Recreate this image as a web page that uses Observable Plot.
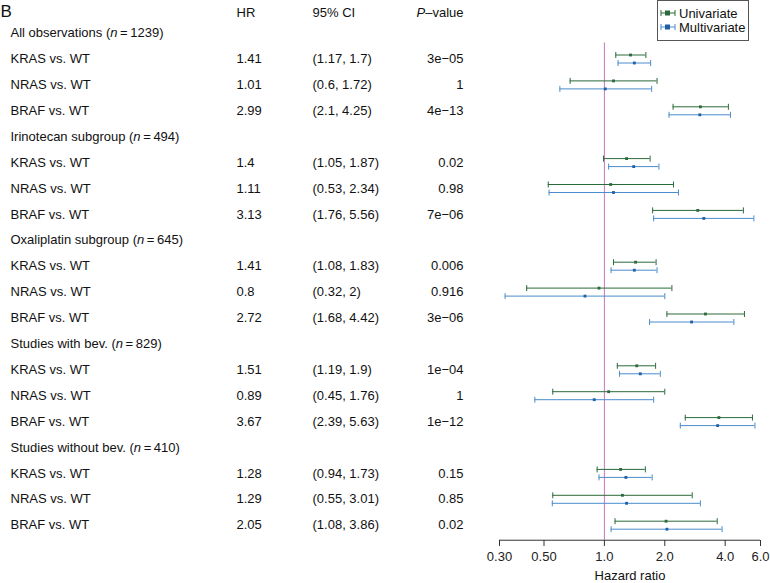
<!DOCTYPE html>
<html>
<head>
<meta charset="utf-8">
<script src="https://cdn.jsdelivr.net/npm/d3@7"></script>
<script src="https://cdn.jsdelivr.net/npm/@observablehq/plot@0.6"></script>
<style>
  html, body { margin: 0; padding: 0; background: #fff; }
  #wrap { position: relative; width: 770px; height: 583px; font-family: "Liberation Sans", Arial, sans-serif; }
  #legend { position: absolute; left: 657px; top: 0px; width: 92px; height: 41px; border: 1px solid #555; box-sizing: border-box; background: #fff; font-size: 13px; color: #111; }
  #legend .row { display: flex; align-items: center; height: 14px; margin-top: 5px; }
  #legend .row + .row { margin-top: 0px; }
  #legend svg { margin-left: 2px; margin-right: 3px; }
</style>
</head>
<body>
<div id="wrap"></div>
<script>
// ---------- data ----------
const groups = ["All observations", "Irinotecan subgroup", "Oxaliplatin subgroup", "Studies with bev.", "Studies without bev."];
const groupN = [1239, 494, 645, 829, 410];
const comparisons = ["KRAS vs. WT", "NRAS vs. WT", "BRAF vs. WT"];

// multivariate (table values)
const multiHR = [1.41, 1.01, 2.99, 1.4, 1.11, 3.13, 1.41, 0.8, 2.72, 1.51, 0.89, 3.67, 1.28, 1.29, 2.05];
const multiLo = [1.17, 0.6, 2.1, 1.05, 0.53, 1.76, 1.08, 0.32, 1.68, 1.19, 0.45, 2.39, 0.94, 0.55, 1.08];
const multiHi = [1.7, 1.72, 4.25, 1.87, 2.34, 5.56, 1.83, 2, 4.42, 1.9, 1.76, 5.63, 1.73, 3.01, 3.86];
const pValues = ["3e\u221205", "1", "4e\u221213", "0.02", "0.98", "7e\u221206", "0.006", "0.916", "3e\u221206", "1e\u221204", "1", "1e\u221212", "0.15", "0.85", "0.02"];

// univariate
const uniHR = [1.35, 1.11, 3.01, 1.29, 1.075, 2.92, 1.43, 0.94, 3.19, 1.45, 1.05, 3.72, 1.205, 1.23, 2.03];
const uniLo = [1.14, 0.675, 2.2, 0.99, 0.525, 1.74, 1.11, 0.41, 2.05, 1.16, 0.553, 2.53, 0.92, 0.553, 1.13];
const uniHi = [1.61, 1.83, 4.15, 1.69, 2.21, 4.93, 1.81, 2.17, 4.99, 1.8, 2.0, 5.47, 1.6, 2.74, 3.65];

const xTicks = [0.3, 0.5, 1, 2, 4, 6];
const xTickLabels = ["0.30", "0.50", "1.0", "2.0", "4.0", "6.0"];
const headers = ["HR", "95% CI", "P\u2013value"];
const xLabel = "Hazard ratio";

// ---------- tables ----------
const groupRows = groups.map((g, i) => ({row: i * 4, label: `${g} (n\u2009=\u2009${groupN[i]})`}));
const compRows = [];
groups.forEach((g, gi) => comparisons.forEach((c, ci) => {
  const k = gi * 3 + ci;
  compRows.push({
    row: gi * 4 + ci + 1, label: c,
    hr: String(multiHR[k]), ci: `(${multiLo[k]}, ${multiHi[k]})`, p: pValues[k],
    uHR: uniHR[k], uLo: uniLo[k], uHi: uniHi[k],
    mHR: multiHR[k], mLo: multiLo[k], mHi: multiHi[k]
  });
}));

// ---------- layout ----------
const W = 770, H = 583;
const rowTop = 32.6, rowStep = 25.9, nRows = 20;
const axisRow = 19.58, refTop = 0.38;
const green = "#2b6a3a", blue = "#4a8ccc", blueDot = "#1f5fa8", magenta = "#d070c0";
const capSymbol = {draw(ctx, size) { const h = Math.sqrt(size / Math.PI); ctx.moveTo(0, -h); ctx.lineTo(0, h); }};
const xMid = Math.sqrt(xTicks[0] * xTicks[xTicks.length - 1]);

const chart = Plot.plot({
  width: W, height: H,
  marginLeft: 0, marginRight: 0, marginTop: 0, marginBottom: 43,
  style: {fontFamily: "'Liberation Sans', Arial, sans-serif", fontSize: "13px", color: "#111", background: "#fff"},
  x: {type: "log", domain: [0.3, 6], range: [499, 760]},
  y: {domain: [0, nRows - 1], range: [rowTop, rowTop + rowStep * (nRows - 1)], axis: null},
  marks: [
    // left table
    Plot.text(["B"], {frameAnchor: "top-left", dx: 0, dy: 11, lineAnchor: "middle", textAnchor: "start", fontSize: 17, fill: "#111"}),
    Plot.text([headers[0]], {frameAnchor: "top-left", dx: 236, dy: 12, lineAnchor: "middle", textAnchor: "start", fill: "#111"}),
    Plot.text([headers[1]], {frameAnchor: "top-left", dx: 312, dy: 12, lineAnchor: "middle", textAnchor: "start", fill: "#111"}),
    Plot.text([headers[2]], {frameAnchor: "top-left", dx: 463, dy: 12, lineAnchor: "middle", textAnchor: "end", fill: "#111", className: "pval-head"}),
    Plot.text(groupRows, {y: "row", text: "label", frameAnchor: "left", dx: 10, textAnchor: "start", fill: "#111", className: "group-label"}),
    Plot.text(compRows, {y: "row", text: "label", frameAnchor: "left", dx: 10, textAnchor: "start", fill: "#111"}),
    Plot.text(compRows, {y: "row", text: "hr", frameAnchor: "left", dx: 236, textAnchor: "start", fill: "#111"}),
    Plot.text(compRows, {y: "row", text: "ci", frameAnchor: "left", dx: 312, textAnchor: "start", fill: "#111"}),
    Plot.text(compRows, {y: "row", text: "p", frameAnchor: "left", dx: 463, textAnchor: "end", fill: "#111"}),
    // reference line
    Plot.ruleX([1], {y1: refTop, y2: axisRow, stroke: magenta, strokeWidth: 1}),
    // univariate
    Plot.ruleY(compRows, {y: "row", x1: "uLo", x2: "uHi", dy: -4, stroke: green, strokeWidth: 1}),
    Plot.dot(compRows, {y: "row", x: "uLo", dy: -4, symbol: capSymbol, r: 3, stroke: green, fill: "none", strokeWidth: 1}),
    Plot.dot(compRows, {y: "row", x: "uHi", dy: -4, symbol: capSymbol, r: 3, stroke: green, fill: "none", strokeWidth: 1}),
    Plot.dot(compRows, {y: "row", x: "uHR", dy: -4, symbol: "square", r: 1.6, fill: green, stroke: "none"}),
    // multivariate
    Plot.ruleY(compRows, {y: "row", x1: "mLo", x2: "mHi", dy: 4, stroke: blue, strokeWidth: 1}),
    Plot.dot(compRows, {y: "row", x: "mLo", dy: 4, symbol: capSymbol, r: 3, stroke: blue, fill: "none", strokeWidth: 1}),
    Plot.dot(compRows, {y: "row", x: "mHi", dy: 4, symbol: capSymbol, r: 3, stroke: blue, fill: "none", strokeWidth: 1}),
    Plot.dot(compRows, {y: "row", x: "mHR", dy: 4, symbol: "square", r: 1.6, fill: blueDot, stroke: "none"}),
    // x axis
    Plot.ruleY([axisRow], {x1: xTicks[0], x2: xTicks[xTicks.length - 1], stroke: "#333", strokeWidth: 1}),
    Plot.axisX({ticks: xTicks, tickFormat: (d) => xTickLabels[xTicks.indexOf(d)], tickSize: 6, tickPadding: 5, stroke: "#333",
      fill: "#222", fontSize: 13, label: null}),
    Plot.text([xLabel], {x: [xMid], frameAnchor: "bottom", lineAnchor: "middle", dy: 35, fill: "#111", fontSize: 13})
  ]
});

// italic "P" and "n"
d3.select(chart).selectAll(".pval-head text").each(function() {
  const t = d3.select(this); const s = t.text(); t.text("");
  t.append("tspan").attr("font-style", "italic").text(s[0]);
  t.append("tspan").text(s.slice(1));
});
d3.select(chart).selectAll(".group-label text").each(function() {
  const t = d3.select(this); const s = t.text(); const i = s.indexOf("(n") + 1; t.text("");
  t.append("tspan").text(s.slice(0, i));
  t.append("tspan").attr("font-style", "italic").text("n");
  t.append("tspan").text(s.slice(i + 1));
});

const wrap = document.getElementById("wrap");
wrap.appendChild(chart);

// legend
const legend = document.createElement("div");
legend.id = "legend";
const item = (label, line, dot) => `<div class="row"><svg width="16" height="8"><line x1="1" y1="4" x2="15" y2="4" stroke="${line}"/><line x1="1" y1="1" x2="1" y2="7" stroke="${line}"/><line x1="15" y1="1" x2="15" y2="7" stroke="${line}"/><rect x="5" y="1.5" width="5" height="5" fill="${dot}"/></svg><span>${label}</span></div>`;
legend.innerHTML = item("Univariate", green, green) + item("Multivariate", blue, blueDot);
wrap.appendChild(legend);
</script>
</body>
</html>
